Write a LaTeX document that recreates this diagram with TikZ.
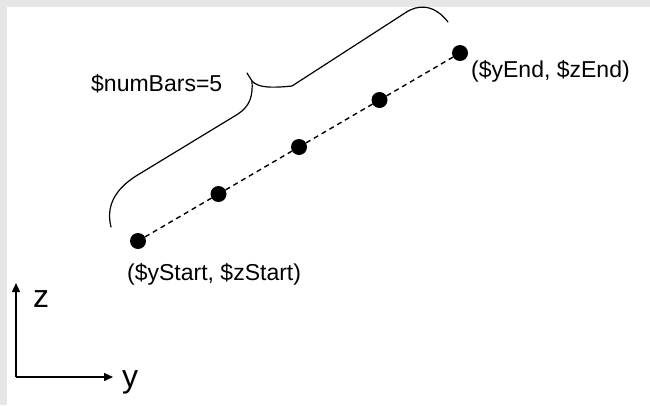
\documentclass[tikz,border=0pt]{standalone}
\usepackage{fontspec}
\setmainfont{Liberation Sans}
\usetikzlibrary{arrows.meta}
\definecolor{framegray}{HTML}{E6E6E6}
\begin{document}
\begin{tikzpicture}[x=1pt,y=-1pt,
  dot/.style={circle,fill=black,inner sep=0pt,minimum size=16pt},
  lbl/.style={font=\fontsize{23}{27}\selectfont,inner sep=0pt,anchor=base west},
  axlbl/.style={font=\fontsize{32}{36}\selectfont,inner sep=0pt,anchor=base west},
  dashline/.style={line width=1.4pt,dash pattern=on 5pt off 4pt},
  axis/.style={line width=1.5pt,-{Triangle[length=9pt,width=8pt]}},
  bracestyle/.style={line width=1.2pt,line join=round,line cap=round}]
\useasboundingbox (0,0) rectangle (650,405);
\fill[framegray] (0,0) rectangle (650,405);
\fill[white] (7,7) rectangle (650,405);
% dots
\node[dot] (d1) at (138,241) {};
\node[dot] (d2) at (218.5,194) {};
\node[dot] (d3) at (299,147) {};
\node[dot] (d4) at (379.5,100) {};
\node[dot] (d5) at (460,53) {};
\draw[dashline] (d1) -- (d2);
\draw[dashline] (d2) -- (d3);
\draw[dashline] (d3) -- (d4);
\draw[dashline] (d4) -- (d5);
% brace
\coordinate (bs) at (111,227);
\coordinate (bl) at (136,176);
\coordinate (bm) at (238,114);
\coordinate (bt) at (252,81);
\coordinate (bh) at (247,73);
\coordinate (br) at (292,86);
\coordinate (bu) at (405,13);
\coordinate (be) at (448,22);
\draw[bracestyle] (bs) .. controls (106,207) and (114,190) .. (bl) -- (bm)
   .. controls (250,106) and (253,96) .. (bt) -- (bh);
\draw[bracestyle] (bt) .. controls (258,88) and (272,88) .. (br) -- (bu)
   .. controls (418,4) and (434,4) .. (be);
% labels
\node[lbl] (nb) at (91,91) {\$numBars=5};
\node[lbl] (le) at (471,77) {(\$yEnd, \$zEnd)};
\node[lbl] (ls) at (127,280) {(\$yStart, \$zStart)};
% axes
\coordinate (o) at (16,377);
\coordinate (zt) at (16,283);
\coordinate (yt) at (113,377);
\draw[axis] (o) -- (zt);
\draw[axis] (o) -- (yt);
\node[axlbl] (zl) at (33,307) {z};
\node[axlbl] (yl) at (122,387) {y};
\end{tikzpicture}
\end{document}
